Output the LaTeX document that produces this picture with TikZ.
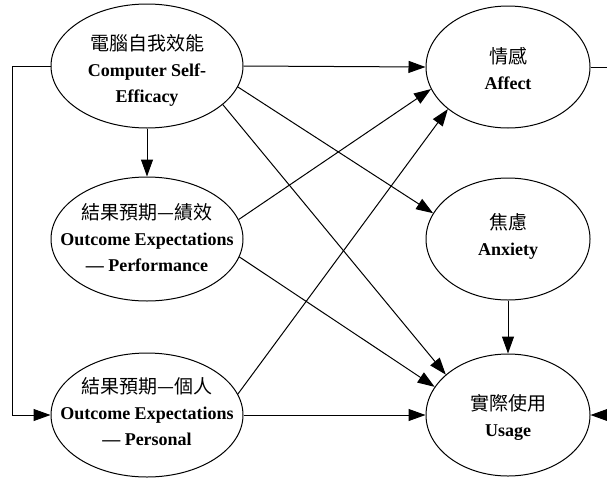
\documentclass[tikz,border=0pt]{standalone}
\usepackage{fontspec}
\setmainfont{Liberation Serif}
\newfontfamily\cjk{Noto Sans CJK TC}
\usetikzlibrary{shapes.geometric,arrows.meta}

\newcommand\zh[1]{{\mdseries\cjk\fontsize{19}{26}\selectfont #1}}

\tikzset{
  bigoval/.style={ellipse, draw, line width=1pt, inner sep=0pt,
    minimum width=192pt, minimum height=124pt},
  smalloval/.style={ellipse, draw, line width=1pt, inner sep=0pt,
    minimum width=164pt, minimum height=122pt},
  lbl/.style={align=center, inner sep=0pt,
    font=\fontsize{18}{26}\selectfont\bfseries},
  link/.style={line width=1pt},
  arr/.style={link, -{Triangle[length=17pt,width=12pt]}}
}

\begin{document}
\begin{tikzpicture}[x=1pt,y=-1pt]
\useasboundingbox (0,0) rectangle (607,477);

% constructs
\node[bigoval] (cse)  at (147,66)  {};
\node[bigoval] (perf) at (147,239) {};
\node[bigoval] (pers) at (147,415) {};
\node[smalloval] (affect)  at (508,67)  {};
\node[smalloval] (anxiety) at (508,239) {};
\node[smalloval] (usage)   at (508,415) {};

% labels
\node[lbl] (cse-t) at ([yshift=-4pt]cse.center)
  {\zh{電腦自我效能}\\Computer Self-\\Efficacy};
\node[lbl] (perf-t) at ([yshift=1pt]perf.center)
  {\zh{結果預期—績效}\\Outcome Expectations\\— Performance};
\node[lbl] (pers-t) at ([yshift=3pt]pers.center)
  {\zh{結果預期—個人}\\Outcome Expectations\\— Personal};
\node[lbl] (affect-t) at ([yshift=-2pt]affect.center)
  {\zh{情感}\\Affect};
\node[lbl] (anxiety-t) at ([yshift=3pt]anxiety.center)
  {\zh{焦慮}\\Anxiety};
\node[lbl] (usage-t) at ([yshift=-2pt]usage.center)
  {\zh{實際使用}\\Usage};

% helper points
\coordinate (loopx) at (12,0);
\coordinate (affect-out) at (607,67);
\coordinate (usage-in) at (607,415);

% paths
\draw[arr] (cse.west) -- (cse.west -| loopx) |- (pers.west);
\draw[arr] (cse.south) -- (perf.north);
\draw[arr] (cse.east) -- (affect.west);
\draw[arr] (cse.-13) -- (anxiety.161);
\draw[arr] (cse.-27) -- (usage.147);
\draw[arr] (perf.12) -- (affect.196);
\draw[arr] (perf.-11) -- (usage.159);
\draw[arr] (pers.13) -- (affect.215);
\draw[arr] (pers.east) -- (usage.west);
\draw[arr] (anxiety.south) -- (usage.north);
\draw[link] (affect.east) -- (affect-out);
\draw[arr] (usage-in) -- (usage.east);
\end{tikzpicture}
\end{document}
